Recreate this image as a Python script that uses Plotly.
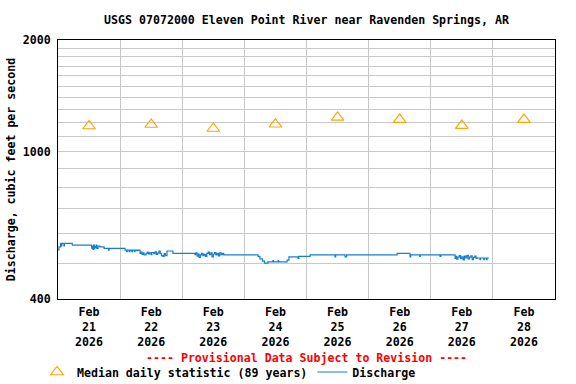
import pandas as pd
import plotly.graph_objects as go

# ---- data ----
start_time = "2026-02-21 00:00"
# discharge, as step breakpoints: hours after start, value (cfs)
discharge_hours = [
    0.0, 0.4, 1.0, 1.3, 1.5, 2.3, 2.5, 5.5,
    13.0, 13.25, 13.5, 13.75, 14.0, 14.25, 14.5, 14.75, 15.0, 15.5, 16.2, 17.8, 19.5, 19.75,
    25.9, 26.5, 26.75, 27.5, 27.75, 28.5, 28.75, 29.5, 29.75, 30.5, 31.0,
    31.7, 32.0, 32.5, 33.0, 33.25, 34.0, 34.5, 35.0, 35.5, 36.0, 36.25, 37.0, 37.5, 38.0, 38.5, 39.0, 39.5, 40.0, 40.5, 41.0, 41.5,
    42.1, 44.4,
    52.9, 53.25, 53.75, 54.25, 54.5, 55.0, 55.5, 56.0, 56.5, 57.0, 57.5, 58.0, 58.5, 59.0, 59.5, 60.0, 60.5, 61.0, 61.5, 62.0, 62.5, 63.0, 63.5, 64.0,
    64.5, 77.3, 78.0, 79.0, 79.75, 81.1, 83.0, 83.25, 85.0, 85.25, 88.5, 89.2,
    92.7, 93.0, 97.4, 107.0, 107.25, 110.9, 111.25, 111.5, 131.0, 136.0, 136.25, 139.8, 140.0, 147.6, 147.9,
    153.4, 153.75, 154.0, 154.5, 155.0, 155.5, 156.0, 156.5, 157.0, 157.5, 158.0, 158.5, 159.0, 159.5, 160.0, 160.5, 161.0, 161.5,
    161.9, 163.0, 163.25, 164.5, 164.75, 165.5, 165.75, 166.5,
]
discharge_cfs = [
    543, 553, 565, 556, 565, 556, 565, 559,
    549, 556, 544, 559, 547, 555, 551, 559, 548, 556, 553, 548, 542, 548,
    542, 537, 542, 537, 542, 537, 542, 537, 542, 540, 542,
    531, 535, 528, 533, 526, 531, 535, 529, 533, 527, 534, 530, 536, 528, 532, 539, 530, 524, 521, 530, 524,
    539, 531,
    527, 533, 522, 529, 518, 526, 531, 524, 528, 521, 531, 535, 527, 533, 520, 529, 534, 526, 531, 523, 533, 527, 531, 526,
    526, 521, 513, 506, 500, 504, 508, 504, 508, 504, 509, 520,
    515, 521, 526, 520, 526, 520, 520, 526, 531, 520, 526, 521, 526, 521, 526,
    515, 521, 512, 519, 524, 514, 520, 510, 522, 516, 525, 513, 519, 523, 511, 518, 522, 515,
    516, 511, 516, 511, 516, 511, 516, 516,
]
median_dates = ["2026-02-21 12:00", "2026-02-22 12:00", "2026-02-23 12:00", "2026-02-24 12:00",
                "2026-02-25 12:00", "2026-02-26 12:00", "2026-02-27 12:00", "2026-02-28 12:00"]
median_cfs = [1172, 1183, 1154, 1185, 1236, 1220, 1175, 1220]
day_starts = ["2026-02-22", "2026-02-23", "2026-02-24", "2026-02-25",
              "2026-02-26", "2026-02-27", "2026-02-28"]
tick_text = ["Feb<br>21<br>2026", "Feb<br>22<br>2026", "Feb<br>23<br>2026", "Feb<br>24<br>2026",
             "Feb<br>25<br>2026", "Feb<br>26<br>2026", "Feb<br>27<br>2026", "Feb<br>28<br>2026"]
y_major = [400, 1000, 2000]
y_minor = [500, 600, 700, 800, 900, 1100, 1200, 1300, 1400, 1500, 1600, 1700, 1800, 1900]

t0 = pd.Timestamp(start_time)
times = [t0 + pd.Timedelta(hours=h) for h in discharge_hours]

FONT = "DejaVu Sans Mono"
FS = 11.6
GRID = "#c8c8c8"
W, H = 576, 384
M_T, M_B = 40, 85
PLOT_H = H - M_T - M_B

fig = go.Figure()
fig.add_trace(go.Scatter(
    x=median_dates, y=median_cfs, mode="markers",
    name="Median daily statistic (89 years)",
    marker=dict(symbol="triangle-up-open", size=11, color="#FFA500", line=dict(width=1.2, color="#FFA500")),
))
fig.add_trace(go.Scatter(
    x=times, y=discharge_cfs, mode="lines", line_shape="hv",
    name="Discharge", line=dict(color="#1580d0", width=1.2),
))

fig.update_layout(
    width=W, height=H,
    margin=dict(l=58, r=21, t=M_T, b=M_B, autoexpand=False),
    paper_bgcolor="white", plot_bgcolor="white",
    font=dict(family=FONT, size=FS, color="black", weight="bold"),
    title=dict(text="USGS 07072000 Eleven Point River near Ravenden Springs, AR",
               x=0.5, xref="paper", xanchor="center", y=1 - 20 / H, yref="container", yanchor="middle",
               font=dict(family=FONT, size=FS, weight="bold")),
    showlegend=True,
    legend=dict(orientation="h", x=37 / W, xanchor="left", y=1 - 372 / H, yanchor="middle",
                xref="container", yref="container", font=dict(family=FONT, size=FS, weight="bold"),
                itemwidth=30, tracegroupgap=0, bgcolor="rgba(0,0,0,0)"),
)

fig.update_xaxes(
    type="date", range=["2026-02-21 00:00", "2026-03-01 00:00"],
    tickmode="array", tickvals=median_dates, ticktext=tick_text,
    showgrid=False, ticks="", tickangle=0, automargin=False,
    showline=True, linecolor="black", linewidth=1, mirror=True,
    minor=dict(tickmode="array", tickvals=day_starts, showgrid=True, gridcolor=GRID, gridwidth=1, ticks=""),
    zeroline=False, ticklabelstandoff=2,
    tickfont=dict(family=FONT, size=FS, weight="bold"),
)
fig.update_yaxes(
    type="log", range=[2.60206, 3.30103],
    tickmode="array", tickvals=y_major, ticktext=[str(v) for v in y_major],
    showgrid=True, gridcolor=GRID, gridwidth=1, ticks="", automargin=False,
    showline=True, linecolor="black", linewidth=1, mirror=True,
    minor=dict(tickmode="array", tickvals=y_minor, showgrid=True, gridcolor=GRID, gridwidth=1, ticks=""),
    title=dict(text="Discharge, cubic feet per second", font=dict(family=FONT, size=FS, weight="bold"), standoff=4),
    zeroline=False, ticklabelstandoff=4,
    tickfont=dict(family=FONT, size=FS, weight="bold"),
)

fig.add_annotation(
    text="---- Provisional Data Subject to Revision ----",
    x=0.5, xref="paper", xanchor="center", y=-(358 - (H - M_B)) / PLOT_H, yref="paper", yanchor="middle",
    showarrow=False, font=dict(family=FONT, size=FS, color="red", weight="bold"),
)

fig.write_html("out.html", config={"displayModeBar": False},
               post_script="document.body.style.margin='0';document.body.style.overflow='hidden';")
